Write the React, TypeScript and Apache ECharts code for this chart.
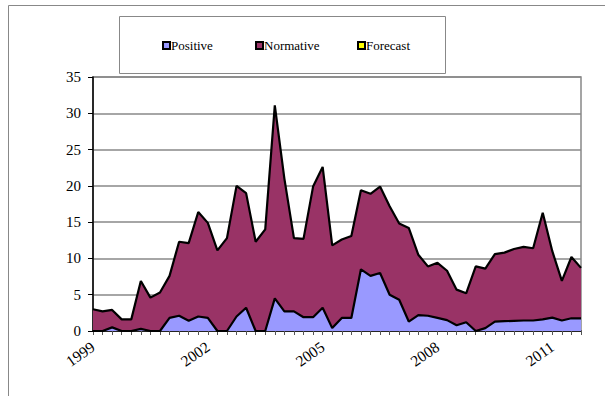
import React, { useEffect, useRef } from "react";
import * as echarts from "echarts";

// Quarterly periods, 1999 Q1 .. 2011 Q4
const years = [1999, 2000, 2001, 2002, 2003, 2004, 2005, 2006, 2007, 2008, 2009, 2010, 2011];
const quarters = ["Q1", "Q2", "Q3", "Q4"];
const periods: string[] = years.flatMap((y) => quarters.map((q) => `${y} ${q}`));

const labelYears = ["1999", "2002", "2005", "2008", "2011"];

const positive = [
  0, 0, 0.5, 0, 0, 0.3, 0, 0, 1.8, 2.1, 1.4, 2.0,
  1.8, 0, 0, 2.0, 3.2, 0, 0, 4.5, 2.7, 2.7, 1.9, 1.9,
  3.2, 0.4, 1.8, 1.8, 8.5, 7.6, 8.0, 5.0, 4.3, 1.3, 2.2, 2.1,
  1.8, 1.5, 0.8, 1.2, 0, 0.4, 1.3, 1.35, 1.4, 1.45, 1.45, 1.6,
  1.85, 1.45, 1.75, 1.75,
];

const normative = [
  3.0, 2.7, 2.4, 1.6, 1.6, 6.6, 4.6, 5.3, 5.8, 10.2, 10.7, 14.4,
  13.1, 11.1, 12.8, 18.0, 15.8, 12.3, 14.0, 26.6, 18.3, 10.1, 10.8, 18.0,
  19.4, 11.4, 10.8, 11.3, 10.9, 11.3, 11.9, 12.2, 10.5, 12.9, 8.3, 6.8,
  7.6, 6.8, 4.9, 4.0, 8.9, 8.2, 9.3, 9.45, 9.9, 10.15, 9.95, 14.7,
  9.15, 5.45, 8.45, 6.95,
];

const forecast: number[] = [];

const FONT = "Liberation Serif, serif";

export default function App() {
  const ref = useRef<HTMLDivElement>(null);

  useEffect(() => {
    if (!ref.current) return;
    const chart = echarts.init(ref.current, undefined, { renderer: "svg" });

    const legendBase = {
      orient: "horizontal" as const,
      padding: 0,
      itemWidth: 7,
      itemHeight: 7,
      itemGap: 0,
      icon: "rect",
      textStyle: { fontFamily: FONT, fontSize: 13, color: "#000", padding: [0, 0, 0, -4] },
      selectedMode: false,
    };

    chart.setOption({
      animation: false,
      backgroundColor: "#fff",
      textStyle: { fontFamily: FONT },
      graphic: [
        {
          type: "polyline",
          shape: { points: [[8.5, 396], [8.5, 5.5], [605, 5.5]] },
          style: { stroke: "#888", lineWidth: 1, fill: null },
          silent: true,
        },
        {
          type: "rect",
          shape: { x: 119.5, y: 16.5, width: 326, height: 57 },
          style: { stroke: "#888", lineWidth: 1, fill: "#fff" },
          silent: true,
          z: -1,
        },
      ],
      legend: [
        { ...legendBase, data: ["Positive"], left: 162, top: 39 },
        { ...legendBase, data: ["Normative"], left: 255, top: 39 },
        { ...legendBase, data: ["Forecast"], left: 357, top: 39 },
      ],
      grid: {
        left: 93,
        right: 24,
        top: 77,
        bottom: 65,
        show: true,
        borderColor: "#888",
        borderWidth: 1.5,
        backgroundColor: "#fff",
      },
      xAxis: {
        type: "category",
        data: periods,
        boundaryGap: false,
        axisLine: { show: true, lineStyle: { color: "#000", width: 1.5 } },
        axisTick: { show: true, interval: 0, length: 4, lineStyle: { color: "#555" } },
        axisLabel: {
          interval: (_i: number, v: string) => labelYears.includes(v.slice(0, 4)) && v.endsWith("Q1"),
          formatter: (v: string) => v.slice(0, 4),
          rotate: 35,
          margin: 14,
          fontFamily: FONT,
          fontSize: 15.5,
          color: "#000",
        },
        splitLine: { show: false },
      },
      yAxis: {
        type: "value",
        min: 0,
        max: 35,
        interval: 5,
        axisLine: { show: true, lineStyle: { color: "#000", width: 1.5 } },
        axisTick: { show: true, length: 5, lineStyle: { color: "#000" } },
        axisLabel: { fontFamily: FONT, fontSize: 15, color: "#000", margin: 12 },
        splitLine: { show: true, lineStyle: { color: "#888", width: 1.5 } },
      },
      series: [
        {
          name: "Positive",
          type: "line",
          stack: "total",
          data: positive,
          symbol: "none",
          color: "#9999ff",
          lineStyle: { color: "#000", width: 2.2 },
          areaStyle: { color: "#9999ff", opacity: 1 },
          itemStyle: { color: "#9999ff", borderColor: "#000", borderWidth: 1 },
          z: 3,
        },
        {
          name: "Normative",
          type: "line",
          stack: "total",
          data: normative,
          symbol: "none",
          color: "#993366",
          lineStyle: { color: "#000", width: 2.2 },
          areaStyle: { color: "#993366", opacity: 1 },
          itemStyle: { color: "#993366", borderColor: "#000", borderWidth: 1 },
          z: 2,
        },
        {
          name: "Forecast",
          type: "line",
          data: forecast,
          symbol: "none",
          color: "#ffff00",
          lineStyle: { color: "#000", width: 2 },
          areaStyle: { color: "#ffff00", opacity: 1 },
          itemStyle: { color: "#ffff00", borderColor: "#000", borderWidth: 1 },
        },
      ],
    });

    return () => chart.dispose();
  }, []);

  return (
    <div
      ref={ref}
      style={{ position: "absolute", left: 0, top: 0, width: 605, height: 396 }}
    />
  );
}
